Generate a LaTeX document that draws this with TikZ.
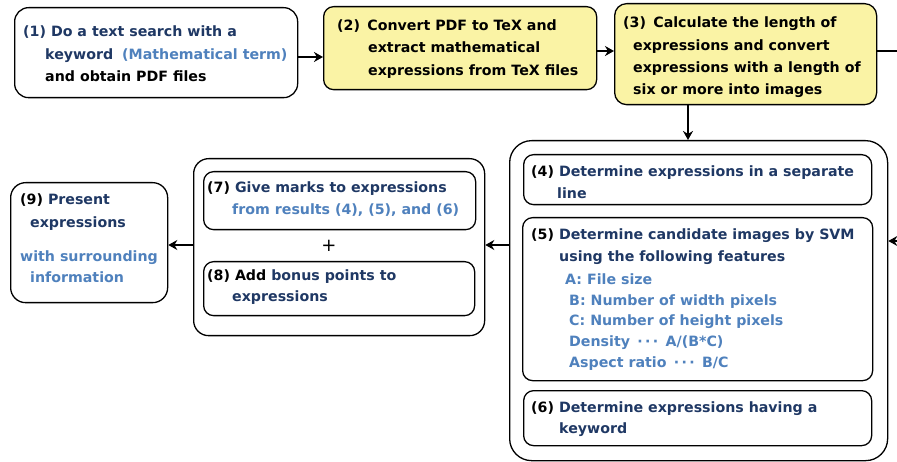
\documentclass[tikz,border=0pt]{standalone}
\usepackage{fontspec}
\setmainfont{DejaVu Sans}
\usetikzlibrary{arrows.meta}
\definecolor{navy}{RGB}{31,56,100}
\definecolor{lblue}{RGB}{79,129,189}
\definecolor{yel}{RGB}{250,243,165}
\begin{document}
\begin{tikzpicture}[x=1pt,y=-1pt,
  box/.style={draw=black, line width=1.3pt, rounded corners=10pt, fill=white, anchor=north west, inner sep=0pt},
  ybox/.style={box, fill=yel},
  tx/.style={anchor=base west, inner sep=0pt, font=\fontsize{14.2}{17}\selectfont\bfseries},
  arr/.style={line width=2.6pt, -{Stealth[length=9pt,width=10pt]}},
  ln/.style={line width=2.6pt}]
\useasboundingbox (0,0) rectangle (897,462);

% boxes
\node[box, rounded corners=14pt, minimum width=283pt, minimum height=90pt] (b1) at (14,7) {};
\node[ybox, minimum width=273pt, minimum height=83pt] (b2) at (323,6) {};
\node[ybox, rounded corners=12pt, minimum width=262pt, minimum height=101pt] (b3) at (614,3) {};
\node[box, rounded corners=22pt, minimum width=378pt, minimum height=320pt] (big) at (509,140) {};
\node[box, minimum width=348pt, minimum height=50pt] (b4) at (523,154) {};
\node[box, minimum width=350pt, minimum height=163pt] (b5) at (522,217) {};
\node[box, minimum width=348pt, minimum height=55pt] (b6) at (523,390) {};
\node[box, rounded corners=15pt, minimum width=291pt, minimum height=177pt] (grp) at (193,158) {};
\node[box, minimum width=272pt, minimum height=58pt] (b7) at (203,171) {};
\node[box, minimum width=271pt, minimum height=54pt] (b8) at (203,261) {};
\node[box, rounded corners=15pt, minimum width=157pt, minimum height=120pt] (b9) at (10,182) {};

% connectors
\coordinate (h1) at (0,57);
\coordinate (h2) at (0,51);
\coordinate (h3) at (0,245);
\coordinate (v1) at (688,0);
\coordinate (r1) at (897,51);
\coordinate (r2) at (897,241);
\draw[arr] (b1.east |- h1) -- (b2.west |- h1);
\draw[arr] (b2.east |- h2) -- (b3.west |- h2);
\draw[ln] (b3.east |- h2) -- (r1);
\draw[arr] (b3.south -| v1) -- (big.north -| v1);
\draw[arr] (r2) -- (big.east |- r2);
\draw[arr] (big.west |- h3) -- (grp.east |- h3);
\draw[arr] (grp.west |- h3) -- (b9.east |- h3);

% texts box 1
\node[tx, text=navy] (t1a) at (23,37) {(1) Do a text search with a};
\node[tx, text=navy] (t1b) at (45,60) {keyword\hspace{9pt}\textcolor{lblue}{(Mathematical term)}};
\node[tx] (t1c) at (45,82) {and obtain PDF files};
% box 2
\node[tx] (t2a) at (337,31) {(2)\, Convert PDF to TeX and};
\node[tx] (t2b) at (368,53) {extract mathematical};
\node[tx] (t2c) at (368,76) {expressions from TeX files};
% box 3
\node[tx] (t3a) at (623,28) {(3)\, Calculate the length of};
\node[tx] (t3b) at (633,51) {expressions and convert};
\node[tx] (t3c) at (633,73) {expressions with a length of};
\node[tx] (t3d) at (633,95) {six or more into images};
% box 4
\node[tx, text=navy] (t4a) at (531,177) {\textcolor{black}{(4)} Determine expressions in a separate};
\node[tx, text=navy] (t4b) at (557,199) {line};
% box 5
\node[tx, text=navy] (t5a) at (531,240) {\textcolor{black}{(5)} Determine candidate images by SVM};
\node[tx, text=navy] (t5b) at (559,262) {using the following features};
\node[tx, text=lblue] (t5c) at (565,285) {A: File size};
\node[tx, text=lblue] (t5d) at (569,306) {B: Number of width pixels};
\node[tx, text=lblue] (t5e) at (569,326) {C: Number of height pixels};
\node[tx, text=lblue] (t5f) at (569,347) {Density \,·\,·\,·\, A/(B*C)};
\node[tx, text=lblue] (t5g) at (569,367) {Aspect ratio \,·\,·\,·\, B/C};
% box 6
\node[tx, text=navy] (t6a) at (531,412) {\textcolor{black}{(6)} Determine expressions having a};
\node[tx, text=navy] (t6b) at (559,433) {keyword};
% box 7
\node[tx, text=navy] (t7a) at (207,193) {\textcolor{black}{(7)} Give marks to expressions};
\node[tx, text=lblue] (t7b) at (232,215) {from results (4), (5), and (6)};
\node[inner sep=0pt, font=\fontsize{18}{18}\selectfont] (plus) at (329,246) {+};
% box 8
\node[tx, text=navy] (t8a) at (207,281) {\textcolor{black}{(8) Add} bonus points to};
\node[tx, text=navy] (t8b) at (232,302) {expressions};
% box 9
\node[tx, text=navy] (t9a) at (20,205) {\textcolor{black}{(9)} Present};
\node[tx, text=navy] (t9b) at (30,228) {expressions};
\node[tx, text=lblue] (t9c) at (20,262) {with surrounding};
\node[tx, text=lblue] (t9d) at (30,283) {information};
\end{tikzpicture}
\end{document}
